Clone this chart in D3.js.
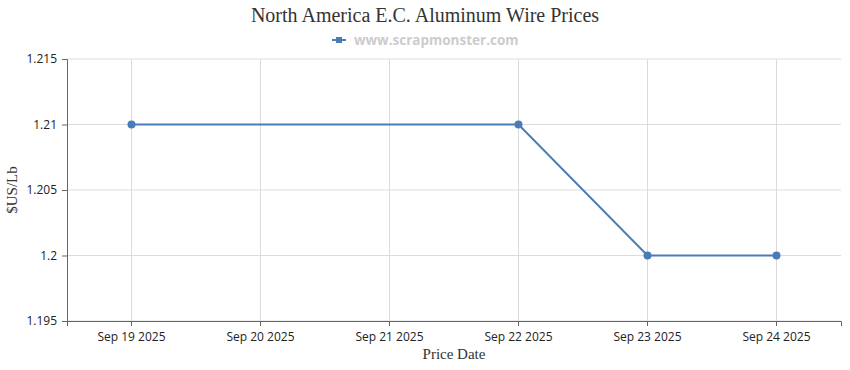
<!DOCTYPE html>
<html>
<head>
<meta charset="utf-8">
<script src="https://cdn.jsdelivr.net/npm/d3@7"></script>
<style>
  body { margin: 0; background: #fff; }
  .tick text { font-family: "Open Sans", "Noto Sans", sans-serif; font-size: 12px; fill: #222; }
</style>
</head>
<body>
<svg id="chart" width="850" height="370"></svg>
<script>
const dates = ["Sep 19 2025", "Sep 20 2025", "Sep 21 2025", "Sep 22 2025", "Sep 23 2025", "Sep 24 2025"]
const priceDates = ["Sep 19 2025", "Sep 22 2025", "Sep 23 2025", "Sep 24 2025"]
const prices = [1.21, 1.21, 1.2, 1.2]
const yTicks = [1.195, 1.2, 1.205, 1.21, 1.215]

const width = 850
const height = 370
const margin = { top: 59, right: 9, bottom: 49, left: 67 }
const lineColor = '#4a7db8'

const svg = d3.select('#chart')

const x = d3.scaleBand()
  .domain(dates)
  .range([margin.left, width - margin.right])

const y = d3.scaleLinear()
  .domain([1.195, 1.215])
  .range([height - margin.bottom, margin.top])

const xc = d => x(d) + x.bandwidth() / 2

// grid
svg.append('g').selectAll('line')
  .data(yTicks)
  .enter()
  .append('line')
  .attr('x1', margin.left)
  .attr('x2', width - margin.right)
  .attr('y1', d => y(d))
  .attr('y2', d => y(d))
  .attr('stroke', '#dcdcdc')

svg.append('g').selectAll('line')
  .data(dates)
  .enter()
  .append('line')
  .attr('x1', xc)
  .attr('x2', xc)
  .attr('y1', margin.top)
  .attr('y2', height - margin.bottom)
  .attr('stroke', '#dcdcdc')

// axes
const xAxis = svg.append('g')
  .attr('transform', `translate(0,${height - margin.bottom})`)
  .call(d3.axisBottom(x).tickSizeOuter(0).tickSize(5).tickPadding(6))
xAxis.select('.domain').attr('stroke', '#666')
xAxis.selectAll('.tick line').attr('stroke', '#666')

const yAxis = svg.append('g')
  .attr('transform', `translate(${margin.left},0)`)
  .call(d3.axisLeft(y).tickValues(yTicks).tickFormat(d3.format('')).tickSizeOuter(0).tickSize(5).tickPadding(5))
yAxis.select('.domain').attr('stroke', '#666')
yAxis.selectAll('.tick line').attr('stroke', '#666')

// series
const series = priceDates.map((d, i) => ({ date: d, value: prices[i] }))

const line = d3.line()
  .x(d => xc(d.date))
  .y(d => y(d.value))

svg.append('path')
  .datum(series)
  .attr('d', line)
  .attr('fill', 'none')
  .attr('stroke', lineColor)
  .attr('stroke-width', 2)

svg.append('g').selectAll('circle')
  .data(series)
  .enter()
  .append('circle')
  .attr('cx', d => xc(d.date))
  .attr('cy', d => y(d.value))
  .attr('r', 4)
  .attr('fill', lineColor)

// titles
svg.append('text')
  .attr('x', width / 2)
  .attr('y', 22)
  .attr('text-anchor', 'middle')
  .attr('font-family', '"Liberation Serif", "Times New Roman", serif')
  .attr('font-size', '20px')
  .attr('fill', '#333')
  .text('North America E.C. Aluminum Wire Prices')

const legend = svg.append('g')
legend.append('line')
  .attr('x1', 332).attr('x2', 346)
  .attr('y1', 40).attr('y2', 40)
  .attr('stroke', lineColor)
  .attr('stroke-width', 2)
legend.append('rect')
  .attr('x', 336).attr('y', 37)
  .attr('width', 6).attr('height', 6)
  .attr('fill', lineColor)
legend.append('text')
  .attr('x', 354)
  .attr('y', 45)
  .attr('font-family', '"Open Sans", "Noto Sans", sans-serif')
  .attr('font-size', '13.5px')
  .attr('font-weight', 'bold')
  .attr('fill', '#cccccc')
  .text('www.scrapmonster.com')

svg.append('text')
  .attr('x', (margin.left + width - margin.right) / 2)
  .attr('y', 359)
  .attr('text-anchor', 'middle')
  .attr('font-family', '"Liberation Serif", "Times New Roman", serif')
  .attr('font-size', '15px')
  .attr('fill', '#333')
  .text('Price Date')

svg.append('text')
  .attr('transform', `translate(17,${(margin.top + height - margin.bottom) / 2}) rotate(-90)`)
  .attr('text-anchor', 'middle')
  .attr('font-family', '"Liberation Serif", "Times New Roman", serif')
  .attr('font-size', '15px')
  .attr('fill', '#333')
  .text('$US/Lb')
</script>
</body>
</html>
